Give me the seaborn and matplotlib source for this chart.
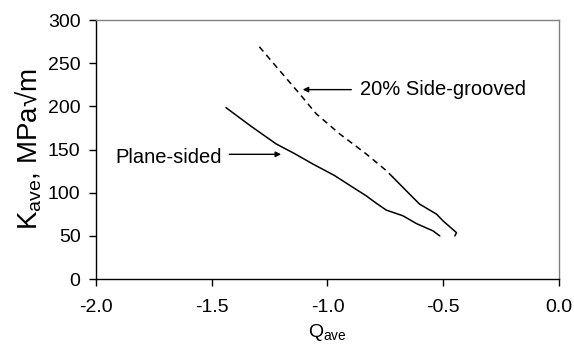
import numpy as np
import pandas as pd
import matplotlib
matplotlib.use("Agg")
import matplotlib.pyplot as plt
import seaborn as sns

# plane-sided specimen
plane_q = [-1.438, -1.33, -1.222, -1.14, -1.064, -0.97, -0.890, -0.833, -0.79, -0.746, -0.674, -0.616, -0.544, -0.515]
plane_k = [198.5, 177.0, 156.6, 145.0, 133.4, 120.0, 106.2, 96.5, 88.0, 79.9, 73.3, 64.3, 55.8, 50.0]

# 20% side-grooved specimen
groove_q = [-1.294, -1.208, -1.121, -1.049, -0.948, -0.833, -0.746, -0.717, -0.631, -0.602, -0.529, -0.501, -0.443, -0.450]
groove_k = [269.0, 241.9, 214.8, 191.5, 168.3, 145.0, 125.6, 117.8, 94.5, 86.8, 75.2, 67.4, 53.8, 50.0]

x_ticks = [-2.0, -1.5, -1.0, -0.5, 0.0]
y_ticks = [0, 50, 100, 150, 200, 250, 300]

sns.set_style("ticks")
plt.rcParams['font.family'] = ['Liberation Sans', 'DejaVu Sans']
plt.rcParams['mathtext.default'] = 'regular'
plt.rcParams['text.color'] = 'black'
plt.rcParams['axes.labelcolor'] = 'black'
plt.rcParams['xtick.color'] = 'black'
plt.rcParams['ytick.color'] = 'black'

plane = pd.DataFrame({'Q': plane_q, 'K': plane_k})
groove = pd.DataFrame({'Q': groove_q, 'K': groove_k})

fig, ax = plt.subplots(figsize=(5.74, 3.45), dpi=100)
fig.subplots_adjust(left=0.167, right=0.974, top=0.942, bottom=0.191)

sns.lineplot(data=plane, x='Q', y='K', sort=False, color='black', lw=1.1, ax=ax)
# the sparse upper part reads as dashed, the dense tail looks solid
sns.lineplot(data=groove.iloc[:8], x='Q', y='K', sort=False, color='black', lw=1.1,
             linestyle=(0, (4, 3)), ax=ax)
sns.lineplot(data=groove.iloc[7:], x='Q', y='K', sort=False, color='black', lw=1.1, ax=ax)

ax.set_xlim(-2.0, 0.0)
ax.set_ylim(0, 300)
ax.set_xticks(x_ticks)
ax.set_xticklabels([f"{v:.1f}" for v in x_ticks])
ax.set_yticks(y_ticks)
ax.tick_params(labelsize=14, direction='out', length=5, width=1)
ax.tick_params(axis='x', pad=9)
ax.tick_params(axis='y', pad=6)

for s in ['top', 'right']:
    ax.spines[s].set_color('#808080')
    ax.spines[s].set_linewidth(1)
for s in ['left', 'bottom']:
    ax.spines[s].set_color('black')
    ax.spines[s].set_linewidth(1)

ax.set_xlabel('Q$_{ave}$', fontsize=14, labelpad=5)
ax.set_ylabel('K$_{ave}$, MPa\u221am', fontsize=20, labelpad=3)

arrow = dict(arrowstyle='-|>', color='black', lw=1, mutation_scale=8, shrinkA=0, shrinkB=0)
ax.annotate('', xy=(-1.107, 219.4), xytext=(-0.897, 219.4), arrowprops=arrow)
ax.text(-0.861, 219.0, '20% Side-grooved', fontsize=14.5, va='center', ha='left')
ax.annotate('', xy=(-1.200, 144.5), xytext=(-1.424, 144.5), arrowprops=arrow)
ax.text(-1.915, 141.0, 'Plane-sided', fontsize=14.5, va='center', ha='left')

fig.savefig('out.png', dpi=100)
